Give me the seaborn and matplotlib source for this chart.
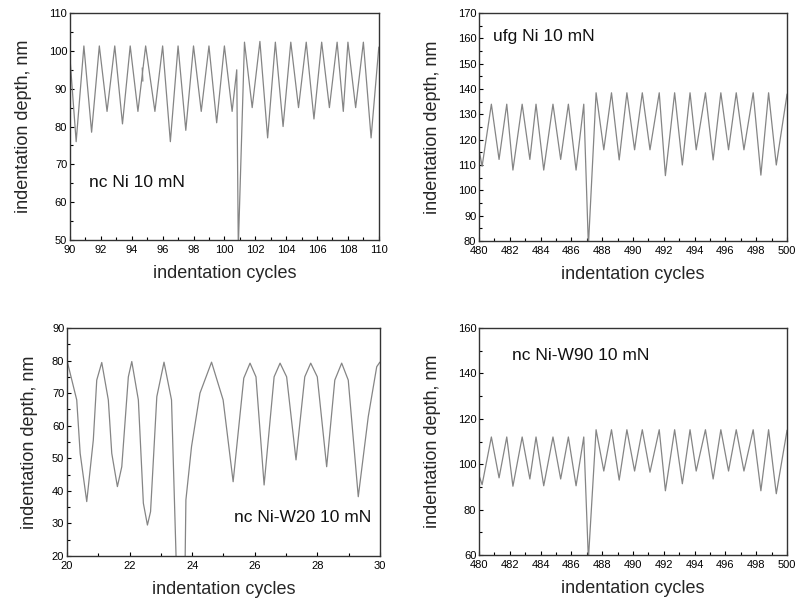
import matplotlib
matplotlib.use("Agg")
import matplotlib.pyplot as plt
import seaborn as sns
from matplotlib.ticker import MultipleLocator

# nc Ni 10 mN (peaks / valleys)
ni_x = [90.0, 90.4, 90.9, 91.4, 91.9, 92.4, 92.9, 93.4, 93.9, 94.4, 94.9, 95.5,
        96.0, 96.5, 97.0, 97.5, 98.0, 98.5, 99.0, 99.5, 100.0, 100.5, 100.8, 100.9,
        101.3, 101.8, 102.3, 102.8, 103.3, 103.8, 104.3, 104.8, 105.3, 105.8,
        106.3, 106.8, 107.3, 107.7, 108.0, 108.5, 109.0, 109.5, 110.0]
ni_y = [98, 76, 101.3, 78.5, 101.3, 84, 101.3, 80.7, 101.3, 84, 101.3, 84,
        101.3, 76, 101.3, 79, 101.3, 84, 101.3, 81, 101.3, 84, 95, 48,
        102.3, 85, 102.5, 77, 102.3, 80, 102.3, 85, 102.3, 82,
        102.3, 85, 102.3, 84, 102.3, 85, 102.3, 77, 101]
ni_blip_x = [94.68, 94.72]
ni_blip_y = [95.5, 92.0]

# ufg Ni 10 mN
ufg_x = [480.0, 480.2, 480.8, 481.3, 481.8, 482.2, 482.8, 483.3, 483.7, 484.2,
         484.8, 485.3, 485.8, 486.3, 486.8, 487.1, 487.6, 488.1, 488.6, 489.1,
         489.6, 490.1, 490.6, 491.1, 491.7, 492.1, 492.7, 493.2, 493.7, 494.1,
         494.7, 495.2, 495.7, 496.2, 496.7, 497.2, 497.8, 498.3, 498.8, 499.3, 500.0]
ufg_y = [116, 109.5, 134, 112.2, 134, 108, 134, 112.2, 134, 108,
         134, 112.2, 134, 108, 134, 78, 138.5, 116, 138.5, 112,
         138.5, 116, 138.5, 116, 138.5, 105.8, 138.5, 110, 138.5, 116,
         138.5, 112, 138.5, 116, 138.5, 116, 138.5, 106, 138.5, 110, 138]

# nc Ni-W20 10 mN
w20_x = [20.0, 20.31, 20.42, 20.63, 20.84, 20.95, 21.11, 21.32, 21.43, 21.61,
         21.75, 21.96, 22.07, 22.28, 22.44, 22.57, 22.67, 22.87, 23.1, 23.34,
         23.5, 23.77, 23.8, 23.98, 24.25, 24.62, 24.99, 25.31, 25.65, 25.85,
         26.04, 26.3, 26.62, 26.81, 27.02, 27.32, 27.6, 27.79, 28.0, 28.3,
         28.56, 28.78, 28.99, 29.31, 29.63, 29.9, 30.0]
w20_y = [80, 67.9, 51.5, 36.7, 55.6, 74, 79.4, 67.9, 51.5, 41.3,
         47.4, 75, 79.7, 67.9, 36.2, 29.5, 33.6, 68.9, 79.5, 67.9,
         15, 15, 37.2, 53.6, 70, 79.5, 67.9, 42.8, 74.6, 79.2,
         75, 41.8, 75, 79.2, 75, 49.5, 75, 79.2, 75, 47.4,
         74, 79.2, 74, 38.2, 62.8, 78.1, 79.5]

# nc Ni-W90 10 mN
w90_x = ufg_x
w90_y = [95, 91, 112, 94, 112, 90.3, 112, 93.5, 112, 90.5,
         112, 93.5, 112, 90.5, 112, 58, 115.2, 97, 115.2, 93,
         115.2, 97, 115.2, 96.5, 115.2, 88.3, 115.2, 91.4, 115.2, 97,
         115.2, 93.5, 115.2, 97, 115.2, 97, 115.2, 88.3, 115.2, 87, 115]

panels = [
    (ni_x, ni_y, (90, 110), (50, 110), 10, "nc Ni 10 mN", (0.061, 0.255, "left"), 12),
    (ufg_x, ufg_y, (480, 500), (80, 170), 10, "ufg Ni 10 mN", (0.045, 0.895, "left"), 12),
    (w20_x, w20_y, (20, 30), (20, 90), 10, "nc Ni-W20 10 mN", (0.974, 0.167, "right"), 10),
    (w90_x, w90_y, (480, 500), (60, 160), 20, "nc Ni-W90 10 mN", (0.107, 0.881, "left"), 12),
]
rects = [
    [0.0877, 0.6026, 0.387, 0.3758],
    [0.6003, 0.6010, 0.386, 0.3775],
    [0.0840, 0.0795, 0.392, 0.3775],
    [0.6003, 0.0811, 0.386, 0.3758],
]

sns.set_theme(style="ticks")
plt.rcParams['font.family'] = ['Liberation Sans', 'DejaVu Sans']

fig = plt.figure(figsize=(7.98, 6.04), dpi=100)

for (x, y, xlim, ylim, ystep, label, (tx, ty, ha), ypad), rect in zip(panels, rects):
    ax = fig.add_axes(rect)
    sns.lineplot(x=x, y=y, ax=ax, color="#858585", linewidth=0.9, sort=False)
    if label == "nc Ni 10 mN":
        sns.lineplot(x=ni_blip_x, y=ni_blip_y, ax=ax, color="#858585",
                     linewidth=0.9, sort=False)
    ax.set_xlim(*xlim)
    ax.set_ylim(*ylim)
    ax.xaxis.set_major_locator(MultipleLocator(2))
    ax.xaxis.set_minor_locator(MultipleLocator(1))
    ax.yaxis.set_major_locator(MultipleLocator(ystep))
    ax.yaxis.set_minor_locator(MultipleLocator(ystep / 2))
    ax.tick_params(which="both", direction="in", labelsize=8, width=0.8,
                   colors="black", pad=2)
    ax.tick_params(axis="x", which="major", pad=3.5)
    ax.tick_params(which="major", length=3)
    ax.tick_params(which="minor", length=2)
    for s in ax.spines.values():
        s.set_color("#333333")
        s.set_linewidth(1.0)
    ax.set_xlabel("indentation cycles", fontsize=13, labelpad=7)
    ax.set_ylabel("indentation depth, nm", fontsize=13, labelpad=ypad)
    ax.text(tx, ty, label, transform=ax.transAxes, ha=ha, va="center",
            fontsize=12.5, color="#111111")

fig.savefig("out.png", dpi=100)
